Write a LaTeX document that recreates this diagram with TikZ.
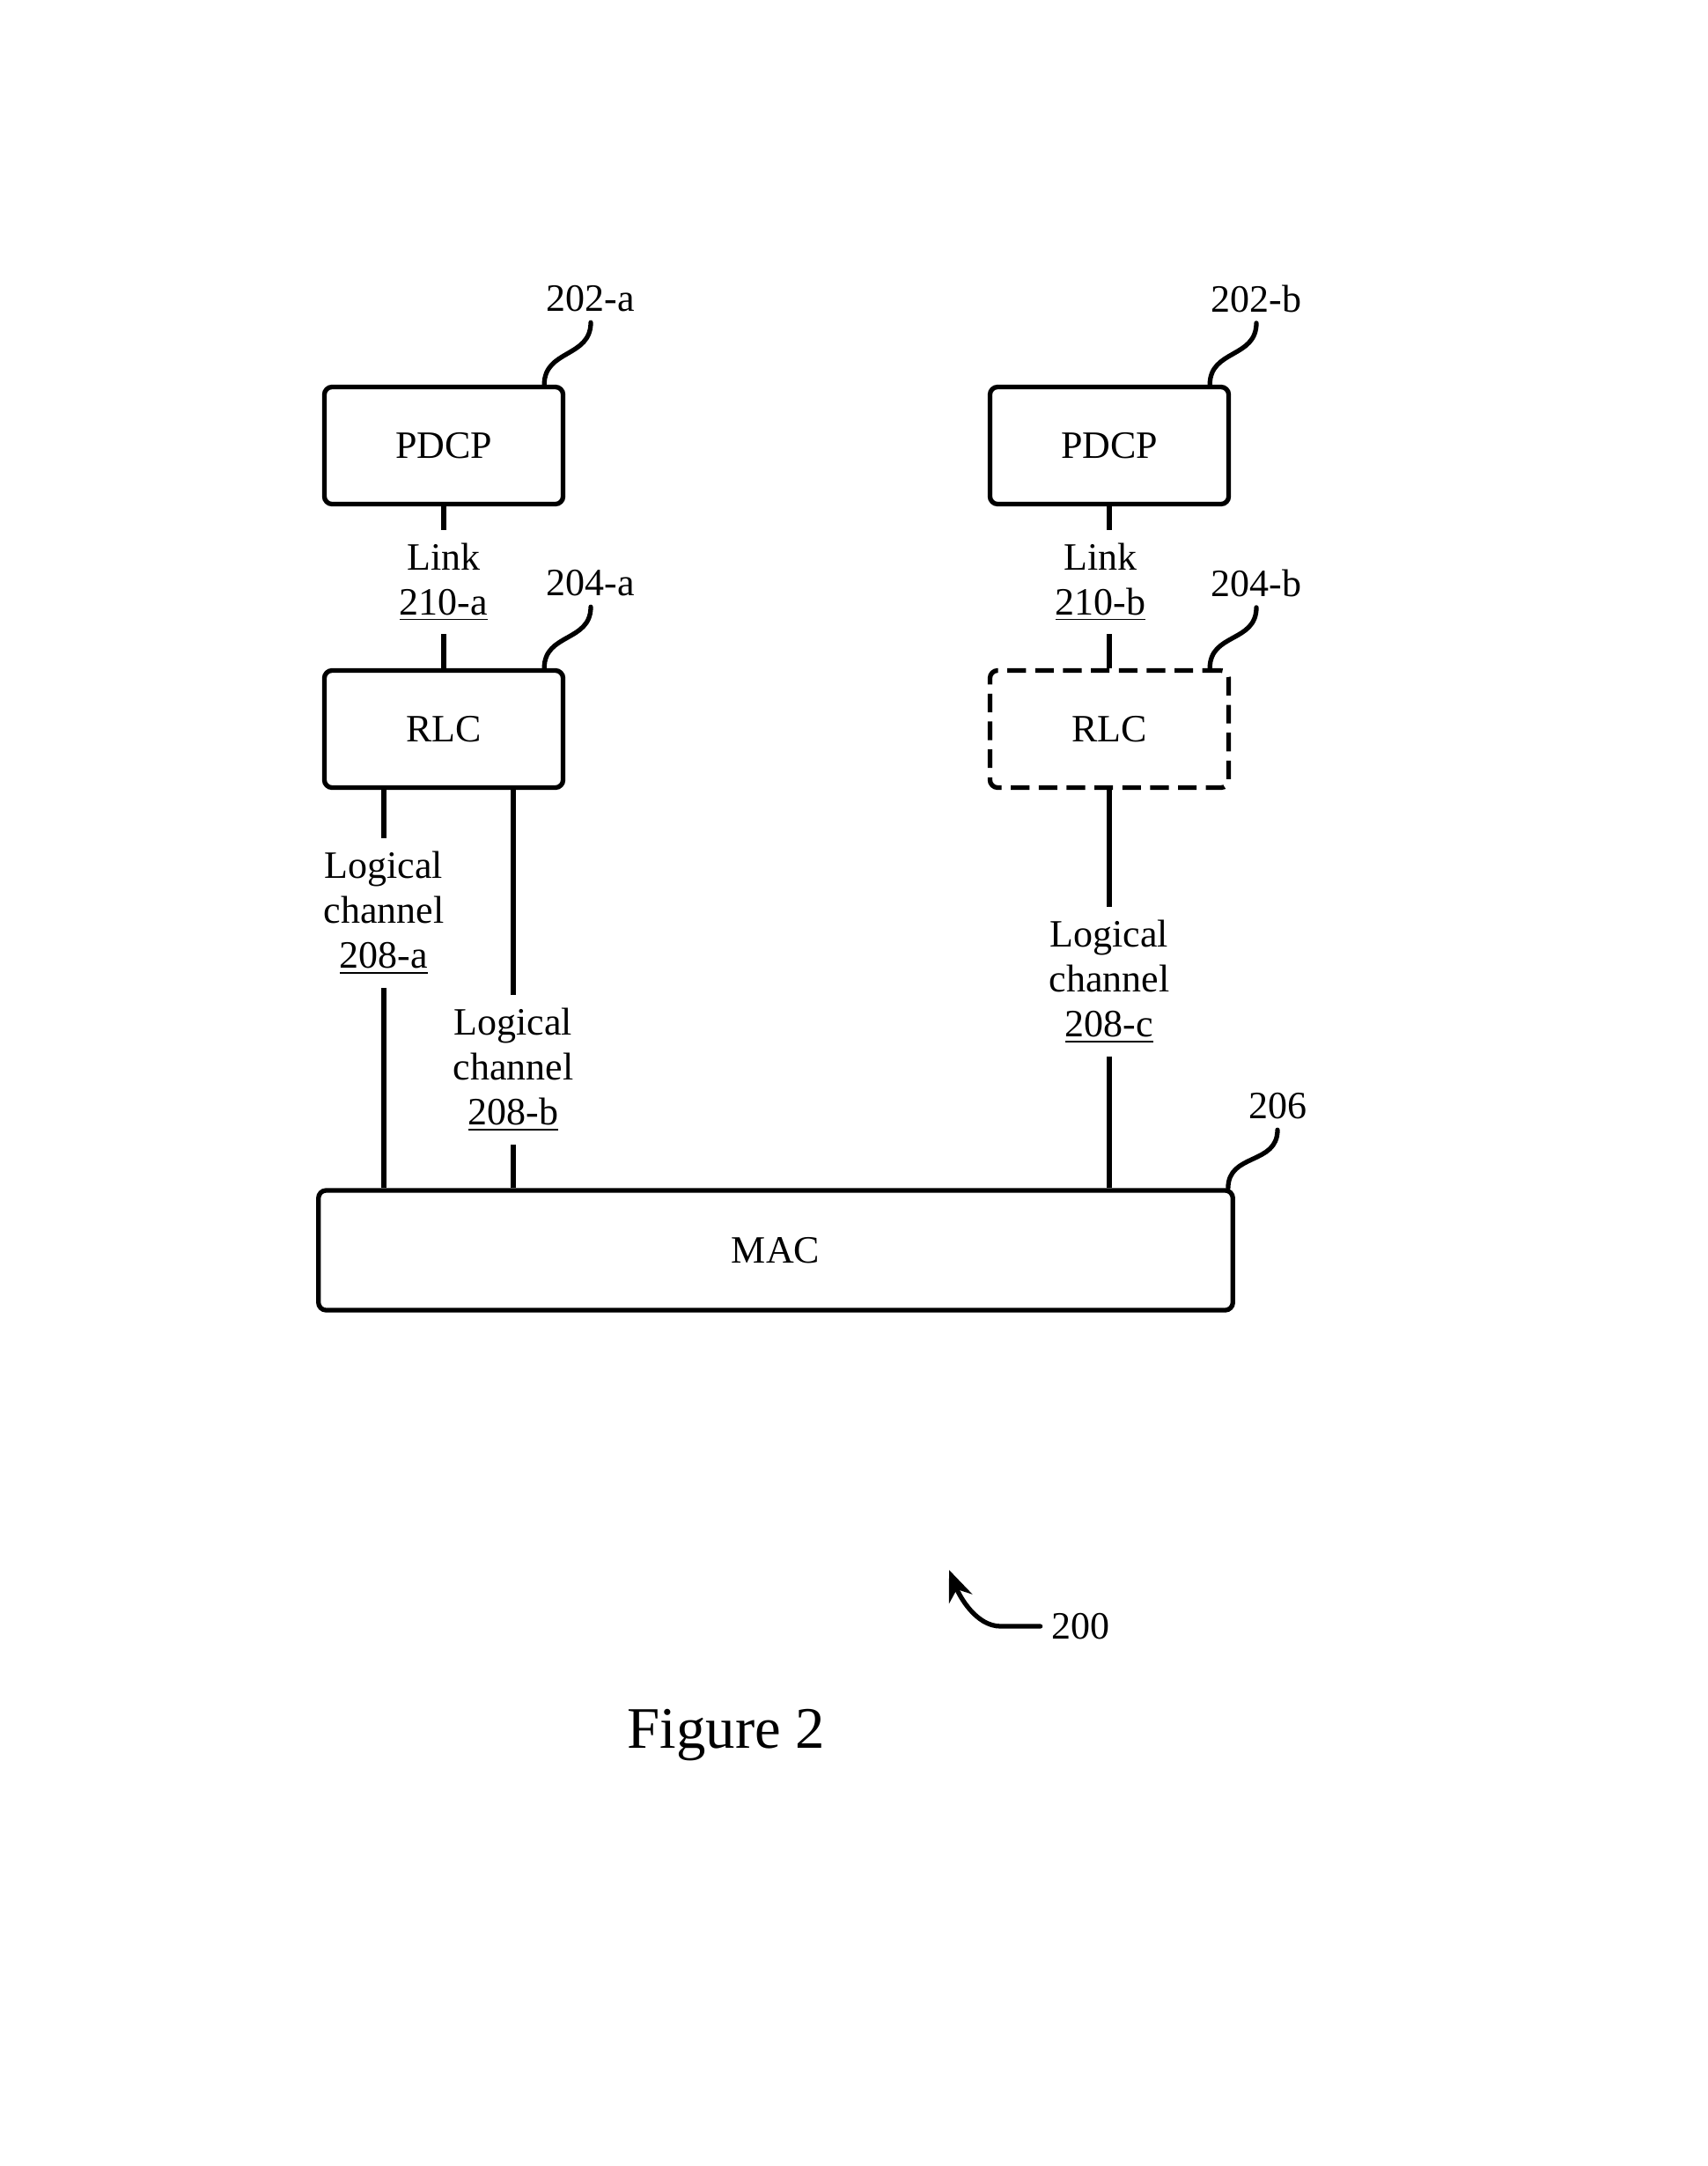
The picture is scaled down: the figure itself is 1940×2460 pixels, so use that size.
\documentclass[tikz,border=0pt]{standalone}
\usepackage{fontspec}
\setmainfont{Liberation Serif}
\usetikzlibrary{arrows.meta}
\tikzset{
  every node/.style={font=\fontsize{12.5pt}{14.5pt}\selectfont},
  layer/.style={draw, line width=1.5pt, rounded corners=2.5pt, inner sep=0pt,
    minimum width=2.71cm, minimum height=1.33cm},
  optlayer/.style={layer, dash pattern=on 6pt off 3pt},
  chanlabel/.style={align=center, inner sep=4pt},
  wire/.style={line width=1.5pt},
  callout/.style={line width=1.5pt, line cap=round},
}
\begin{document}
\begin{tikzpicture}[x=0.01cm,y=-0.01cm]
  \useasboundingbox (0,0) rectangle (1940,2460);

  % protocol entities
  \node[layer] (pdcpa) at (504,506) {PDCP};
  \node[layer] (rlca) at (504,828) {RLC};
  \node[layer] (pdcpb) at (1260,506) {PDCP};
  \node[optlayer] (rlcb) at (1260,828) {RLC};
  \node[layer, minimum width=10.38cm, minimum height=1.36cm] (mac) at (881,1420) {MAC};

  % reference numerals
  \node (lbl202a) at (671,339) {202-a};
  \node (lbl204a) at (671,662) {204-a};
  \node (lbl202b) at (1427,339) {202-b};
  \node (lbl204b) at (1427,662) {204-b};
  \node (lbl206) at (1451,1256) {206};

  \draw[callout] (lbl202a.south) .. controls +(0,40) and +(0,-40) .. ([xshift=-0.24cm]pdcpa.north east);
  \draw[callout] (lbl204a.south) .. controls +(0,40) and +(0,-40) .. ([xshift=-0.24cm]rlca.north east);
  \draw[callout] (lbl202b.south) .. controls +(0,40) and +(0,-40) .. ([xshift=-0.24cm]pdcpb.north east);
  \draw[callout] (lbl204b.south) .. controls +(0,40) and +(0,-40) .. ([xshift=-0.24cm]rlcb.north east);
  \draw[callout] (lbl206.south) .. controls +(0,40) and +(0,-40) .. ([xshift=-0.08cm]mac.north east);

  % links
  \node[chanlabel] (linka) at (504,661) {Link\\\underline{210-a}};
  \node[chanlabel] (linkb) at (1250,661) {Link\\\underline{210-b}};
  \draw[wire] (pdcpa.south) -- (pdcpa.south |- linka.north);
  \draw[wire] (pdcpa.south |- linka.south) -- (rlca.north);
  \draw[wire] (pdcpb.south) -- (pdcpb.south |- linkb.north);
  \draw[wire] (pdcpb.south |- linkb.south) -- (rlcb.north);

  % logical channels
  \node[chanlabel] (chana) at (436,1037) {Logical\\channel\\\underline{208-a}};
  \node[chanlabel] (chanb) at (583,1215) {Logical\\channel\\\underline{208-b}};
  \node[chanlabel] (chanc) at (1260,1115) {Logical\\channel\\\underline{208-c}};
  \draw[wire] (chana |- rlca.south) -- (chana);
  \draw[wire] (chana) -- (chana |- mac.north);
  \draw[wire] (chanb |- rlca.south) -- (chanb);
  \draw[wire] (chanb) -- (chanb |- mac.north);
  \draw[wire] (rlcb.south) -- (chanc);
  \draw[wire] (chanc) -- (chanc |- mac.north);

  % figure numeral
  \node (lbl200) at (1227,1847) {200};
  \coordinate (tip200) at (1078,1783);
  \draw[callout, -{Stealth[length=10pt,width=8pt]}] (lbl200.west) -- ++(-45,0)
    .. controls +(-28,0) and +(12,30) .. (tip200);

  \node[font=\fontsize{19pt}{22pt}\selectfont] (caption) at (825,1971) {Figure 2};
\end{tikzpicture}
\end{document}
